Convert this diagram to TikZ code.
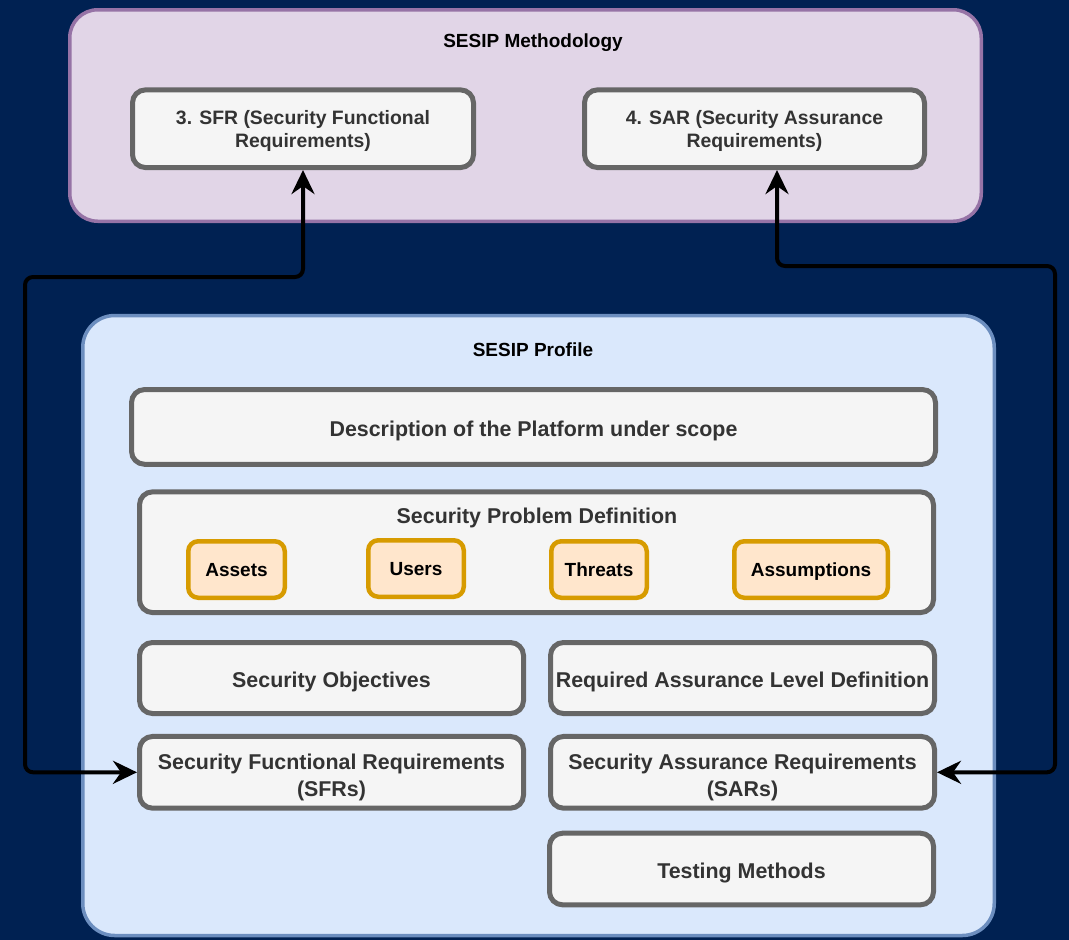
\documentclass[tikz,border=0pt]{standalone}
\usepackage{fontspec}
\setmainfont{Liberation Sans}
\usetikzlibrary{arrows.meta}
\definecolor{navy}{HTML}{002152}
\definecolor{lilacfill}{HTML}{E1D5E7}
\definecolor{lilacline}{HTML}{9673A6}
\definecolor{bluefill}{HTML}{DAE8FC}
\definecolor{blueline}{HTML}{6C8EBF}
\definecolor{cardfill}{HTML}{F5F5F5}
\definecolor{cardline}{HTML}{666666}
\definecolor{cardtext}{HTML}{333333}
\definecolor{tagfill}{HTML}{FFE6CC}
\definecolor{tagline}{HTML}{D79B00}
\tikzset{
  panel/.style={draw, line width=3.5pt, rounded corners=28pt, inner sep=0pt},
  paneltitle/.style={anchor=base, inner sep=0pt, font=\bfseries\fontsize{19}{23}\selectfont, text=black},
  card/.style={draw=cardline, fill=cardfill, line width=5pt, rounded corners=13pt,
    inner sep=0pt, align=center, text=cardtext,
    font=\bfseries\fontsize{21.4}{27.5}\selectfont,
    text height=21pt, text depth=2pt},
  twoline/.style={card, text height=50pt, text depth=1.2pt},
  smallcard/.style={card, font=\bfseries\fontsize{19.4}{23.3}\selectfont,
    text height=38pt, text depth=0.8pt},
  tag/.style={draw=tagline, fill=tagfill, line width=4.5pt, rounded corners=10pt,
    inner sep=0pt, text=black, font=\bfseries\fontsize{19}{23}\selectfont,
    text height=13.6pt, text depth=0pt},
  link/.style={draw=black, line width=4pt, rounded corners=8pt,
    {Stealth[length=24pt,width=23pt,inset=8pt]}-{Stealth[length=24pt,width=23pt,inset=8pt]}}
}
\begin{document}
\begin{tikzpicture}[x=1pt,y=-1pt]
\fill[navy] (0,0) rectangle (1069,940);
\useasboundingbox (0,0) rectangle (1069,940);

% SESIP methodology panel
\node[panel, draw=lilacline, fill=lilacfill, minimum width=911.5, minimum height=211.5] (meth) at (525.5,115.5) {};
\node[paneltitle] (methtitle) at (533,47.7) {SESIP Methodology};
\node[smallcard, minimum width=341, minimum height=77.7] (sfr) at (303,128.7) {3. SFR (Security Functional\\Requirements)};
\node[smallcard, minimum width=340, minimum height=77.7] (sar) at (754.5,128.7) {4. SAR (Security Assurance\\Requirements)};

% SESIP profile panel
\node[panel, draw=blueline, fill=bluefill, rounded corners=32pt, minimum width=911.5, minimum height=620] (prof) at (538.5,625.5) {};
\node[paneltitle] (proftitle) at (533,356) {SESIP Profile};

\node[card, minimum width=804, minimum height=74.7] (desc) at (533.5,426.9) {Description of the Platform under scope};

\node[card, minimum width=794, minimum height=120.7] (spd) at (536.5,552.2) {};
\node[paneltitle, text=cardtext, font=\bfseries\fontsize{21.4}{25}\selectfont] (spdtitle) at (537,523.3) {Security Problem Definition};
\node[tag, minimum width=96.5, minimum height=56.5] (assets) at (236.5,569.5) {Assets};
\node[tag, minimum width=95.5, minimum height=56.5] (users) at (416,568.5) {Users};
\node[tag, minimum width=95.5, minimum height=56.5] (threats) at (599,569.5) {Threats};
\node[tag, minimum width=153.5, minimum height=56.5] (assum) at (811,569.5) {Assumptions};

\node[card, minimum width=384, minimum height=71] (obj) at (331.5,678) {Security Objectives};
\node[card, minimum width=384, minimum height=71] (ral) at (742.5,678) {Required Assurance Level Definition};
\node[twoline, minimum width=384, minimum height=71.7] (sfrs) at (331.5,772.3) {Security Fucntional Requirements\\(SFRs)};
\node[twoline, minimum width=384, minimum height=71.7] (sars) at (742.5,772.3) {Security Assurance Requirements\\(SARs)};
\node[card, minimum width=384, minimum height=71.6] (test) at (741.5,869) {Testing Methods};

% traceability links
\coordinate (lturn) at (25,277);
\coordinate (rside) at (1055,266);
\coordinate (rtap) at (777,266);
\draw[link] (sfrs.west) -| (lturn) -| (sfr.south);
\draw[link] (sars.east) -| (rside) -- (rtap) -- (rtap |- sar.south);
\end{tikzpicture}
\end{document}
